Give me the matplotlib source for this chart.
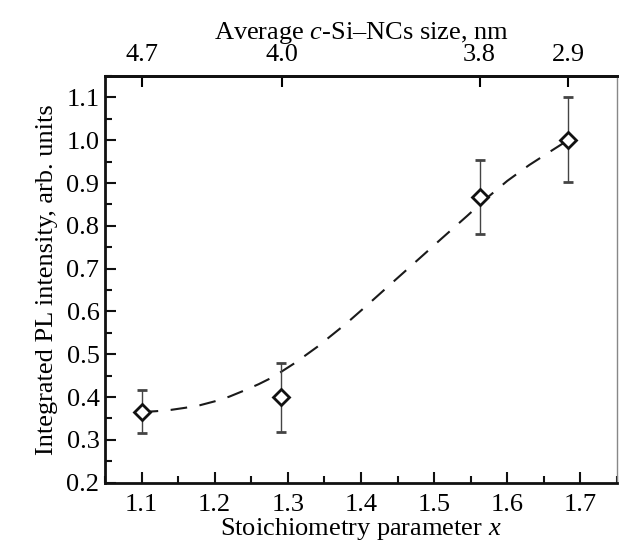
import matplotlib
matplotlib.use('Agg')
import matplotlib.pyplot as plt
from matplotlib.ticker import MultipleLocator, NullLocator

plt.rcParams['font.family'] = ['Liberation Serif', 'DejaVu Serif']
plt.rcParams['mathtext.fontset'] = 'custom'
plt.rcParams['mathtext.rm'] = 'Liberation Serif'
plt.rcParams['mathtext.it'] = 'Liberation Serif:italic'

# measured points
x_stoich = [1.10, 1.29, 1.563, 1.683]
pl_int = [0.365, 0.399, 0.867, 1.0]
err_lo = [0.048, 0.080, 0.087, 0.098]
err_hi = [0.051, 0.081, 0.087, 0.101]

# dashed guide curve
curve_x = [1.10, 1.12, 1.14, 1.16, 1.18, 1.20, 1.22, 1.24, 1.26, 1.28, 1.31, 1.34,
           1.38, 1.41, 1.44, 1.48, 1.51, 1.545, 1.57, 1.60, 1.63, 1.66, 1.683]
curve_y = [0.365, 0.367, 0.370, 0.375, 0.381, 0.390, 0.401, 0.415, 0.430, 0.447,
           0.480, 0.517, 0.572, 0.617, 0.663, 0.724, 0.770, 0.823, 0.862, 0.905,
           0.942, 0.975, 1.0]

# top axis: average nanocrystal size
size_pos = [1.10, 1.292, 1.562, 1.683]
size_labels = ['4.7', '4.0', '3.8', '2.9']

FS = 19
INK = '#111111'

fig = plt.figure(figsize=(6.19, 5.49), dpi=100, facecolor='white')
ax = fig.add_axes([0.1696, 0.1208, 0.8272, 0.7408])

ax.plot(curve_x, curve_y, color='#1a1a1a', lw=1.5, dashes=(8, 6))
ax.errorbar(x_stoich, pl_int, yerr=[err_lo, err_hi], fmt='D', ms=8,
            mfc='white', mec=INK, mew=2, ecolor='#444444',
            elinewidth=1.0, capsize=3.6, capthick=1.0, zorder=3)

ax.set_xlim(1.05, 1.75)
ax.set_ylim(0.2, 1.15)
ax.xaxis.set_major_locator(MultipleLocator(0.1))
ax.xaxis.set_minor_locator(MultipleLocator(0.05))
ax.yaxis.set_major_locator(MultipleLocator(0.1))
ax.yaxis.set_minor_locator(MultipleLocator(0.05))
ax.tick_params(which='both', direction='in', top=False, right=False,
               labelsize=FS, width=1.5, color=INK)
ax.tick_params(which='major', length=8)
ax.tick_params(which='minor', length=5)
ax.tick_params(axis='x', pad=8)
ax.tick_params(axis='y', pad=4)
for s in ax.spines.values():
    s.set_linewidth(2)
    s.set_color(INK)
ax.spines['right'].set_linewidth(1)
ax.spines['right'].set_color('#888888')

ax.set_xlabel('Stoichiometry parameter $x$', fontsize=FS, labelpad=0)
ax.set_ylabel('Integrated PL intensity, arb. units', fontsize=FS, labelpad=6)

top = ax.secondary_xaxis('top')
top.set_xticks(size_pos)
top.set_xticklabels(size_labels)
top.tick_params(direction='in', length=8, width=1.5, labelsize=FS, pad=7)
top.xaxis.set_minor_locator(NullLocator())
top.spines['top'].set_linewidth(2)
top.set_xlabel('Average $c$-Si\u2013NCs size, nm', fontsize=FS, labelpad=4)

fig.savefig('out.png', dpi=100, facecolor='white')
